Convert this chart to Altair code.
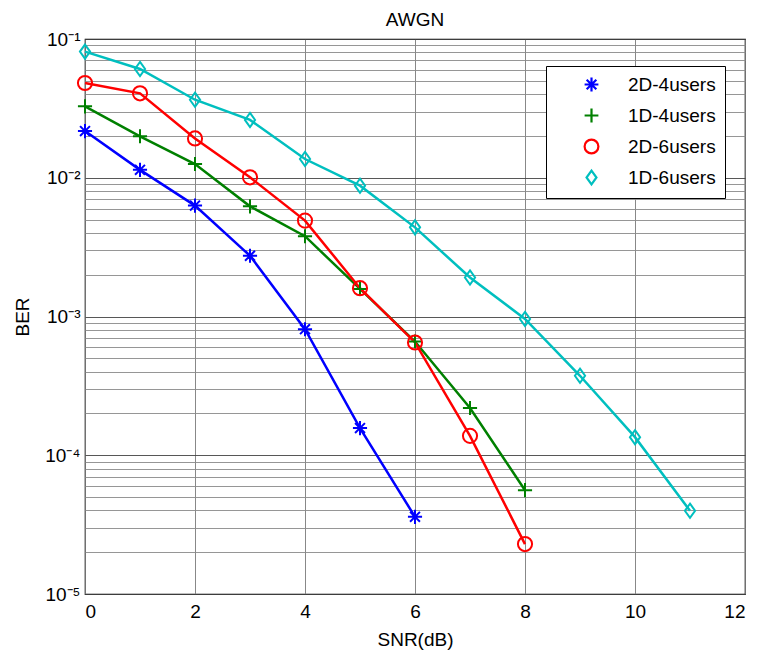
import altair as alt
import pandas as pd

# ---- data ----
series_names = ["2D-4users", "1D-4users", "2D-6users", "1D-6users"]
colors = ["#0000FF", "#008000", "#FF0000", "#00BFBF"]

snr_2d4 = [0, 1, 2, 3, 4, 5, 6]
ber_2d4 = [0.0217, 0.0114, 0.0063, 0.00274, 0.00081, 1.57e-4, 3.6e-5]

snr_1d4 = [0, 1, 2, 3, 4, 5, 6, 7, 8]
ber_1d4 = [0.0327, 0.0199, 0.01256, 0.00622, 0.00379, 0.00158, 6.6e-4, 2.19e-4, 5.6e-5]

snr_2d6 = [0, 1, 2, 3, 4, 5, 6, 7, 8]
ber_2d6 = [0.0482, 0.0406, 0.0192, 0.01007, 0.00491, 0.0016, 6.5e-4, 1.38e-4, 2.29e-5]

snr_1d6 = [0, 1, 2, 3, 4, 5, 6, 7, 8, 9, 10, 11]
ber_1d6 = [0.0811, 0.0608, 0.0365, 0.0261, 0.01365, 0.00877, 0.00439, 0.00191,
           9.6e-4, 3.74e-4, 1.35e-4, 3.98e-5]

x_ticks = [0, 2, 4, 6, 8, 10, 12]
decades = [1e-5, 1e-4, 1e-3, 1e-2, 1e-1]
decade_labels = ["10⁻⁵", "10⁻⁴", "10⁻³", "10⁻²", "10⁻¹"]

# ---- build table ----
rows = []
for name, xs, ys in [
    (series_names[0], snr_2d4, ber_2d4),
    (series_names[1], snr_1d4, ber_1d4),
    (series_names[2], snr_2d6, ber_2d6),
    (series_names[3], snr_1d6, ber_1d6),
]:
    for x, y in zip(xs, ys):
        rows.append({"series": name, "snr": x, "ber": y})
df = pd.DataFrame(rows)

y_values = []
for k in range(-5, -1):
    for m in range(1, 10):
        y_values.append(float(f"{m}e{k}"))
y_values.append(0.1)

label_expr = ""
for v, lab in zip(decades, decade_labels):
    label_expr += f"abs(datum.value - {v}) < {v}*0.01 ? '{lab}' : "
label_expr += "''"
grid_test = " || ".join(f"abs(datum.value - {v}) < {v}*0.01" for v in decades)

asterisk = "M-1,0L1,0M0,-1L0,1M-0.7,-0.7L0.7,0.7M-0.7,0.7L0.7,-0.7"
plus = "M-1,0L1,0M0,-1L0,1"
diamond = "M0,-1L0.72,0L0,1L-0.72,0Z"
shapes = [asterisk, plus, "circle", diamond]

x_enc = alt.X(
    "snr:Q",
    scale=alt.Scale(domain=[0, 12], nice=False),
    axis=alt.Axis(values=x_ticks, title="SNR(dB)", ticks=False, labelPadding=8,
                  grid=True, gridColor="#7a7a7a", gridWidth=0.9, domain=False,
                  titlePadding=9),
)
y_enc = alt.Y(
    "ber:Q",
    scale=alt.Scale(type="log", domain=[1e-5, 1e-1], nice=False),
    axis=alt.Axis(values=y_values, labelExpr=label_expr, title="BER", ticks=False,
                  labelPadding=5, grid=True,
                  gridColor={"condition": {"test": grid_test, "value": "#444444"},
                             "value": "#8a8a8a"},
                  gridWidth=0.9, domain=False, titlePadding=12),
)

color_scale = alt.Scale(domain=series_names, range=colors)

lines = alt.Chart(df).mark_line(strokeWidth=2.5).encode(
    x=x_enc,
    y=y_enc,
    color=alt.Color("series:N", scale=color_scale, legend=None),
)

points = alt.Chart(df).mark_point(filled=False, strokeWidth=2, size=200, opacity=1).encode(
    x=x_enc,
    y=y_enc,
    color=alt.Color("series:N", scale=color_scale, sort=series_names, title=""),
    shape=alt.Shape("series:N", scale=alt.Scale(domain=series_names, range=shapes),
                    sort=series_names, title=""),
)

chart = (
    alt.layer(lines, points)
    .resolve_scale(color="independent")
    .resolve_legend(color="independent", shape="independent")
    .properties(width=660, height=555,
                padding={"left": 5, "top": 3, "right": 5, "bottom": 5},
                title=alt.Title("AWGN", fontSize=19, fontWeight="normal",
                                font="Liberation Sans", offset=0))
    .configure_view(stroke="black", strokeWidth=1.2)
    .configure_axis(labelFont="Liberation Sans", titleFont="Liberation Sans",
                    labelFontSize=19, titleFontSize=19, titleFontWeight="normal",
                    labelColor="black", titleColor="black")
    .configure_legend(orient="none", legendX=461, legendY=27,
                      strokeColor="black", fillColor="white", padding=9,
                      cornerRadius=0, symbolOffset=27, labelOffset=27,
                      labelFont="Liberation Sans", labelFontSize=19, labelColor="black",
                      rowPadding=8, symbolSize=190, symbolStrokeWidth=2.2,
                      labelLimit=250)
)

chart.save("out.html", embed_options={"renderer": "svg", "actions": False})
